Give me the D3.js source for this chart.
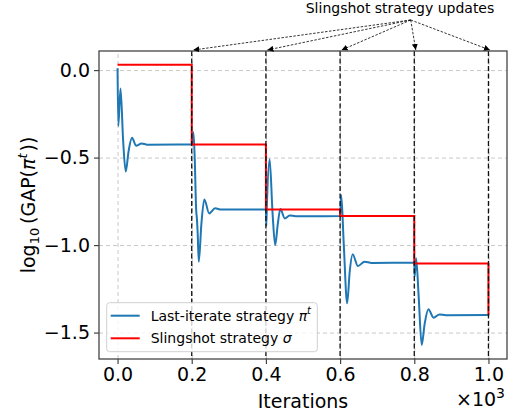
<!DOCTYPE html>
<html>
<head>
<meta charset="utf-8">
<script src="https://cdn.jsdelivr.net/npm/d3@7"></script>
<style>
  body { margin: 0; background: #fff; }
  svg { font-family: "DejaVu Sans", sans-serif; }
  .grid line { stroke: #c8c8c8; stroke-dasharray: 4,3; }
  .grid path { stroke: none; }
</style>
</head>
<body>
<div id="chart"></div>
<script>
// slingshot strategy sigma, stepped at each update
var sigmaIter = [0, 200, 400, 600, 800, 1000];
var sigmaVal = [0.03, -0.425, -0.796, -0.834, -1.105, -1.40];

// last-iterate strategy
var lastIter = [0, 2, 8, 15, 22, 30, 39, 50, 65, 80, 200,
  202, 204.5, 208, 212, 214, 216, 219, 226, 234, 247, 263, 280, 400,
  401, 403, 410, 418, 425, 432, 439, 451, 464, 480, 600,
  601, 603, 610, 619, 626, 634, 648, 666, 685, 800,
  801, 805, 812, 820, 828, 838, 852, 868, 885, 1000];
var lastVal = [0.01, -0.32, -0.105, -0.40, -0.58, -0.46, -0.387, -0.432, -0.419, -0.426, -0.425,
  -0.39, -0.355, -0.5, -0.80, -0.85, -0.93, -1.095, -0.88, -0.739, -0.819, -0.79, -0.797, -0.796,
  -0.89, -0.75, -0.51, -0.82, -1.0, -0.88, -0.794, -0.848, -0.831, -0.835, -0.834,
  -0.80, -0.714, -1.0, -1.333, -1.15, -1.053, -1.12, -1.095, -1.102, -1.101,
  -1.18, -1.075, -1.3, -1.571, -1.45, -1.366, -1.415, -1.396, -1.401, -1.40];

var updateIter = [200, 400, 600, 800, 1000];
var xTicks = [0, 200, 400, 600, 800, 1000];
var yTicks = [0, -0.5, -1.0, -1.5];

var margin = {top: 51, right: 7, bottom: 55, left: 99}
  , width = 514 - margin.left - margin.right
  , height = 414 - margin.top - margin.bottom;

var xScale = d3.scaleLinear().domain([-50, 1050]).range([0, width]);
var yScale = d3.scaleLinear().domain([-1.651, 0.109]).range([height, 0]);

var root = d3.select("#chart").append("svg")
  .attr("width", 514)
  .attr("height", 414);

var defs = root.append("defs");
defs.append("marker")
  .attr("id", "arrow")
  .attr("viewBox", "0 0 10 10")
  .attr("refX", 10).attr("refY", 5)
  .attr("markerWidth", 6).attr("markerHeight", 6)
  .attr("markerUnits", "userSpaceOnUse")
  .attr("orient", "auto")
  .append("path").attr("d", "M0,0L10,5L0,10z").attr("fill", "#000");

var svg = root.append("g")
  .attr("transform", "translate(" + margin.left + "," + margin.top + ")");

// grid
svg.append("g").attr("class", "grid")
  .call(d3.axisLeft(yScale).tickValues(yTicks).tickSize(-width).tickFormat(""));
svg.append("g").attr("class", "grid")
  .attr("transform", "translate(0," + height + ")")
  .call(d3.axisBottom(xScale).tickValues(xTicks).tickSize(-height).tickFormat(""));

var lastData = lastIter.map(function(d, i) { return {x: d, y: lastVal[i]}; });
var sigmaData = sigmaIter.map(function(d, i) { return {x: d, y: sigmaVal[i]}; });

svg.append("path")
  .datum(lastData)
  .attr("fill", "none")
  .attr("stroke", "#1f77b4")
  .attr("stroke-width", 2)
  .attr("stroke-linejoin", "round")
  .attr("d", d3.line()
    .x(function(d) { return xScale(d.x); })
    .y(function(d) { return yScale(d.y); })
    .curve(d3.curveMonotoneX));

svg.append("path")
  .datum(sigmaData)
  .attr("fill", "none")
  .attr("stroke", "#ff0000")
  .attr("stroke-width", 2)
  .attr("d", d3.line()
    .x(function(d) { return xScale(d.x); })
    .y(function(d) { return yScale(d.y); })
    .curve(d3.curveStepAfter));

// update markers
svg.selectAll(".upd")
  .data(updateIter)
  .enter().append("line")
  .attr("class", "upd")
  .attr("x1", function(d) { return xScale(d); })
  .attr("x2", function(d) { return xScale(d); })
  .attr("y1", 0).attr("y2", height)
  .attr("stroke", "#111")
  .attr("stroke-width", 1.3)
  .attr("stroke-dasharray", "5,2.5");

// frame
svg.append("rect")
  .attr("width", width).attr("height", height)
  .attr("fill", "none")
  .attr("stroke", "#444")
  .attr("stroke-width", 1.3);

// axes
var xAxis = svg.append("g")
  .attr("transform", "translate(0," + height + ")")
  .call(d3.axisBottom(xScale).tickValues(xTicks).tickSize(5).tickPadding(4)
    .tickFormat(function(d) { return (d / 1000).toFixed(1); }));
var yAxis = svg.append("g")
  .call(d3.axisLeft(yScale).tickValues(yTicks).tickSize(5).tickPadding(4)
    .tickFormat(function(d) { return d3.format(".1f")(d).replace("-", "\u2212"); }));
[xAxis, yAxis].forEach(function(a) {
  a.select(".domain").remove();
  a.selectAll("line").attr("stroke", "#444").attr("stroke-width", 1.2);
  a.selectAll("text").attr("fill", "#000").style("font-size", "19px").style("font-family", "DejaVu Sans");
});

svg.append("text")
  .attr("x", width / 2)
  .attr("y", height + 49)
  .attr("text-anchor", "middle")
  .style("font-size", "19px")
  .text("Iterations");

var mult = svg.append("text")
  .attr("x", width - 2)
  .attr("y", height + 47)
  .attr("text-anchor", "end")
  .style("font-size", "19px");
mult.append("tspan").text("\u00d710");
mult.append("tspan").attr("dy", -8).style("font-size", "14px").text("3");

var ylab = svg.append("text")
  .attr("transform", "translate(" + (35 - margin.left) + "," + (height / 2) + ") rotate(-90)")
  .attr("text-anchor", "middle")
  .style("font-size", "19px");
ylab.append("tspan").text("log");
ylab.append("tspan").attr("dy", 4).style("font-size", "13px").text("10");
ylab.append("tspan").attr("dy", -4).text("\u2009(GAP(");
ylab.append("tspan").style("font-style", "italic").text("\u03c0");
ylab.append("tspan").attr("dy", -8).style("font-size", "13px").style("font-style", "italic").text("t");
ylab.append("tspan").attr("dy", 8).text("\u200a))");

// legend
var leg = svg.append("g").attr("transform", "translate(" + (106.7 - margin.left) + "," + (302.7 - margin.top) + ")");
leg.append("rect")
  .attr("width", 210.6).attr("height", 49)
  .attr("rx", 3)
  .attr("fill", "#fff").attr("fill-opacity", 0.8)
  .attr("stroke", "#d0d0d0");
var legItems = [
  {color: "#1f77b4", label: "Last-iterate strategy ", sym: "\u03c0", sup: "t"},
  {color: "#ff0000", label: "Slingshot strategy ", sym: "\u03c3", sup: ""}
];
legItems.forEach(function(d, i) {
  var yy = 13 + i * 22.6;
  leg.append("line").attr("x1", 4).attr("x2", 33).attr("y1", yy).attr("y2", yy)
    .attr("stroke", d.color).attr("stroke-width", 2);
  var t = leg.append("text").attr("x", 44).attr("y", yy + 5).style("font-size", "14px");
  t.append("tspan").text(d.label);
  t.append("tspan").style("font-style", "italic").text(d.sym);
  if (d.sup) t.append("tspan").attr("dy", -7).style("font-size", "10px").style("font-style", "italic").text(d.sup);
});

// annotation
root.append("text")
  .attr("x", 400).attr("y", 13)
  .attr("text-anchor", "middle")
  .style("font-size", "14px")
  .text("Slingshot strategy updates");
svg.selectAll(".ann")
  .data(updateIter)
  .enter().append("line")
  .attr("class", "ann")
  .attr("x1", 410.7 - margin.left).attr("y1", 20 - margin.top)
  .attr("x2", function(d) { return xScale(d) + 1.5; })
  .attr("y2", -1)
  .attr("stroke", "#000")
  .attr("stroke-width", 0.8)
  .attr("stroke-dasharray", "2.5,1.5")
  .attr("marker-end", "url(#arrow)");
</script>
</body>
</html>
